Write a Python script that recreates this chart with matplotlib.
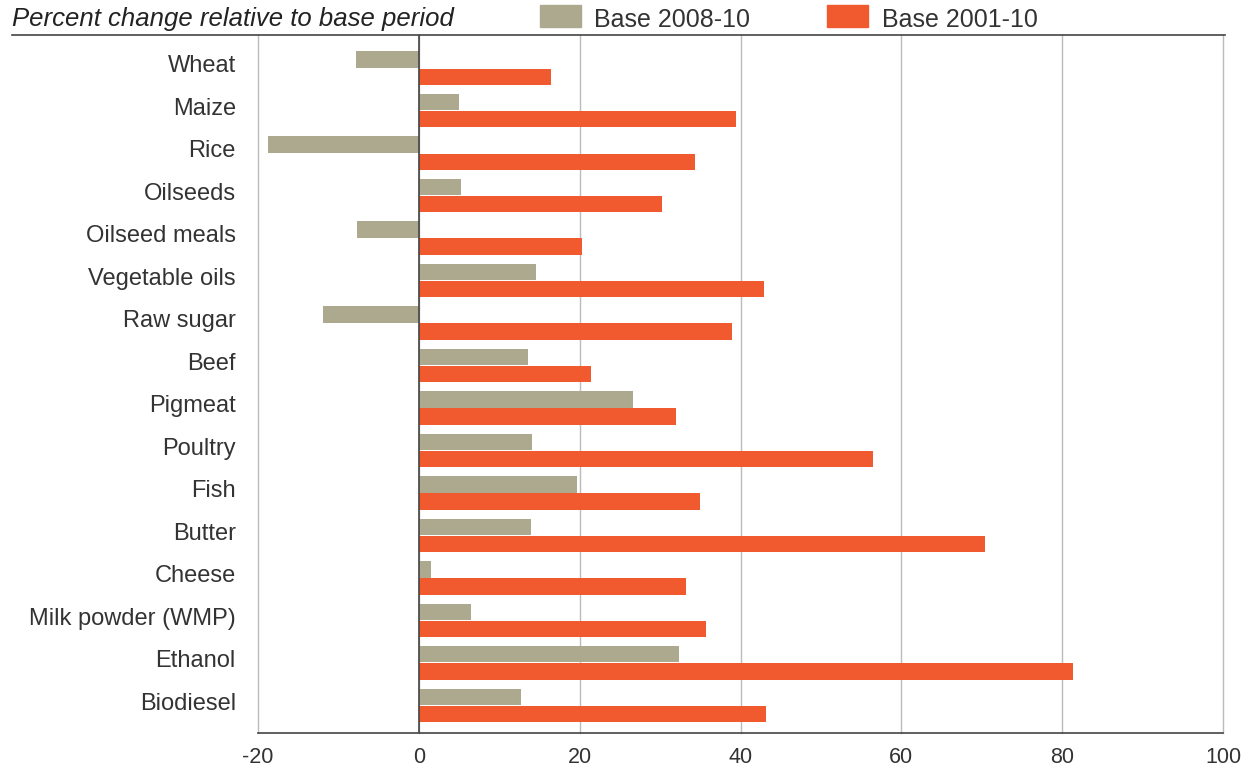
import matplotlib
matplotlib.use("Agg")
import matplotlib.pyplot as plt
import matplotlib.transforms as mtransforms
import numpy as np
from matplotlib.patches import Rectangle
from matplotlib.lines import Line2D

plt.rcParams['font.family'] = ['Liberation Sans', 'DejaVu Sans']

products = ["Wheat", "Maize", "Rice", "Oilseeds", "Oilseed meals", "Vegetable oils",
            "Raw sugar", "Beef", "Pigmeat", "Poultry", "Fish", "Butter", "Cheese",
            "Milk powder (WMP)", "Ethanol", "Biodiesel"]
base_2008 = [-7.8, 5.0, -18.8, 5.2, -7.7, 14.6, -11.9, 13.6, 26.6, 14.1, 19.7, 13.9,
             1.5, 6.5, 32.3, 12.7]
base_2001 = [16.4, 39.5, 34.3, 30.3, 20.3, 42.9, 38.9, 21.4, 32.0, 56.5, 35.0, 70.4,
             33.2, 35.7, 81.4, 43.2]
xticks = [-20, 0, 20, 40, 60, 80, 100]

c_grey = "#ADA98F"
c_orange = "#F15A2E"
txt = "#333333"
W, H = 1252, 768

fig = plt.figure(figsize=(W / 100, H / 100), dpi=100)
ax = fig.add_axes([258 / W, 1 - 733 / H, (1223 - 258) / W, (733 - 35) / H])

y = np.arange(len(products))
h = 0.385
ax.barh(y - h / 2 - 0.01, base_2008, height=h, color=c_grey, zorder=3)
ax.barh(y + h / 2 + 0.01, base_2001, height=h, color=c_orange, zorder=3)

ax.set_xlim(-20, 100)
ax.set_ylim(len(products) - 0.35, -0.78)
ax.set_xticks(xticks)
ax.set_xticklabels([str(v) for v in xticks], fontsize=15.5)
ax.set_yticks(y)
ax.set_yticklabels(products, fontsize=17)
ax.tick_params(axis='both', length=0, colors=txt)
ax.tick_params(axis='y', pad=16)
ax.tick_params(axis='x', pad=10)

# nudge category names up a little
shift = mtransforms.ScaledTranslation(0, 3 / 72, fig.dpi_scale_trans)
for lbl in ax.get_yticklabels():
    lbl.set_transform(lbl.get_transform() + shift)

for v in xticks:
    ax.axvline(v, color="#bbbbbb", lw=1, zorder=1, clip_on=False)
ax.axvline(0, color="#444444", lw=1.2, zorder=4)

for s in ["top", "right", "left"]:
    ax.spines[s].set_visible(False)
ax.spines["bottom"].set_color("#444444")
ax.spines["bottom"].set_linewidth(1.2)

# header rule and title
fig.add_artist(Line2D([12 / W, 1225 / W], [1 - 35 / H, 1 - 35 / H],
                      color="#444444", lw=1.2))
fig.text(12 / W, 1 - 26 / H, "Percent change relative to base period",
         fontsize=18.5, style='italic', color="#222222", va='baseline', ha='left')

# legend
fig.add_artist(Rectangle((540 / W, 1 - 27 / H), 41 / W, 22 / H,
                         color=c_grey, transform=fig.transFigure))
fig.text(594 / W, 1 - 27 / H, "Base 2008-10", fontsize=18, color=txt,
         va='baseline', ha='left')
fig.add_artist(Rectangle((827 / W, 1 - 27 / H), 41 / W, 22 / H,
                         color=c_orange, transform=fig.transFigure))
fig.text(882 / W, 1 - 27 / H, "Base 2001-10", fontsize=18, color=txt,
         va='baseline', ha='left')

fig.savefig("out.png", dpi=100)
